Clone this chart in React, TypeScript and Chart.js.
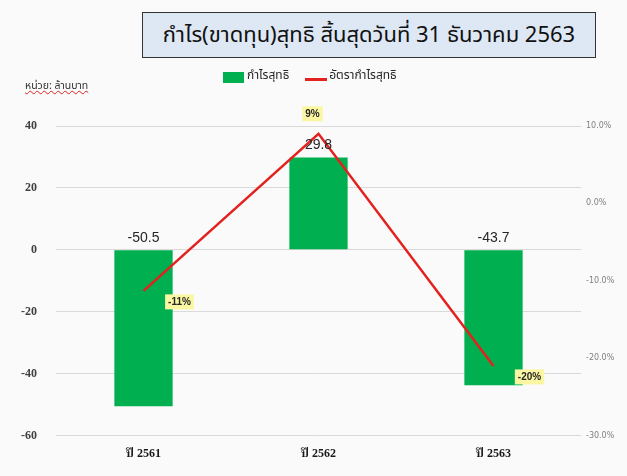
import React, { useEffect, useRef } from "react";
import { Chart, registerables } from "chart.js";

Chart.register(...registerables);

const titleText = "กำไร(ขาดทุน)สุทธิ สิ้นสุดวันที่ 31 ธันวาคม 2563";
const unitText = "หน่วย: ล้านบาท";
const categories = ["ปี 2561", "ปี 2562", "ปี 2563"];
const seriesNames = ["กำไรสุทธิ", "อัตรากำไรสุทธิ"];
const netProfit = [-50.5, 29.8, -43.7];
const profitMargin = [-0.113, 0.09, -0.21];
const marginLabels = ["-11%", "9%", "-20%"];
const leftTicks = [40, 20, 0, -20, -40, -60];
const rightTicks = [0.1, 0, -0.1, -0.2, -0.3];

const GREEN = "#00B050";
const RED = "#E3211F";
const SANS = "'Noto Sans Thai', 'Liberation Sans', 'DejaVu Sans', sans-serif";
const SERIF = "'Liberation Serif', 'Noto Serif Thai', 'Noto Sans Thai', serif";

const labelPlugin = {
  id: "valueLabels",
  afterDatasetsDraw(chart: any) {
    const ctx = chart.ctx as CanvasRenderingContext2D;
    ctx.save();
    ctx.textAlign = "center";
    ctx.textBaseline = "middle";
    const barMeta = chart.getDatasetMeta(1);
    ctx.font = "14px 'Liberation Sans', Arial, sans-serif";
    ctx.fillStyle = "#262626";
    barMeta.data.forEach((el: any, i: number) => {
      const top = Math.min(el.y, el.base);
      ctx.fillText(netProfit[i].toFixed(1), el.x, top - 12);
    });
    const lineMeta = chart.getDatasetMeta(0);
    ctx.font = "bold 10px 'Liberation Sans', Arial, sans-serif";
    lineMeta.data.forEach((pt: any, i: number) => {
      const txt = marginLabels[i];
      const pos = profitMargin[i] >= 0;
      const cx = pos ? pt.x - 6 : pt.x + 36;
      const cy = pos ? pt.y - 20 : pt.y + 11;
      const w = ctx.measureText(txt).width + 6;
      const h = 15;
      ctx.fillStyle = "#FAF6A2";
      ctx.fillRect(cx - w / 2, cy - h / 2, w, h);
      ctx.fillStyle = "#262626";
      ctx.fillText(txt, cx, cy + 0.5);
    });
    ctx.restore();
  },
};

export default function App() {
  const canvasRef = useRef<HTMLCanvasElement | null>(null);

  useEffect(() => {
    document.body.style.margin = "0";
    const canvas = canvasRef.current;
    if (!canvas) return;
    const chart = new Chart(canvas, {
      type: "bar",
      data: {
        labels: categories,
        datasets: [
          {
            type: "line",
            label: seriesNames[1],
            data: profitMargin,
            yAxisID: "y1",
            borderColor: RED,
            backgroundColor: RED,
            borderWidth: 2.5,
            pointRadius: 0,
            tension: 0,
            order: 0,
          } as any,
          {
            type: "bar",
            label: seriesNames[0],
            data: netProfit,
            yAxisID: "y",
            backgroundColor: GREEN,
            borderWidth: 0,
            barPercentage: 0.333,
            categoryPercentage: 1,
            order: 1,
          } as any,
        ],
      },
      options: {
        responsive: true,
        maintainAspectRatio: false,
        animation: false,
        layout: { padding: { top: 126, left: 0, right: 0, bottom: 4 } },
        plugins: {
          legend: { display: false },
          tooltip: { enabled: false },
          title: { display: false },
        },
        scales: {
          x: {
            grid: { display: false, drawTicks: false },
            border: { display: false },
            ticks: {
              color: "#1a1a1a",
              padding: 11,
              font: { family: SERIF, size: 12, weight: "bold" },
            },
          },
          y: {
            position: "left",
            min: -60,
            max: 40,
            afterBuildTicks: (s: any) => {
              s.ticks = leftTicks.map((v) => ({ value: v }));
            },
            afterFit: (s: any) => {
              s.width = 56;
            },
            grid: { color: "#d9d9d9", lineWidth: 1, drawTicks: false },
            border: { display: false },
            ticks: {
              color: "#404040",
              padding: 19,
              font: { family: SERIF, size: 12, weight: "bold" },
            },
          },
          y1: {
            position: "right",
            min: -0.3,
            max: 0.1,
            afterBuildTicks: (s: any) => {
              s.ticks = rightTicks.map((v) => ({ value: v }));
            },
            afterFit: (s: any) => {
              s.width = 46;
            },
            grid: { display: false, drawTicks: false },
            border: { display: false },
            ticks: {
              color: "#808080",
              padding: 5,
              font: { family: "'DejaVu Sans', sans-serif", size: 8 },
              callback: (v: any) => {
                const n = Math.abs(v) < 1e-9 ? 0 : v * 100;
                return n.toFixed(1) + "%";
              },
            },
          },
        },
      },
      plugins: [labelPlugin],
    });
    return () => chart.destroy();
  }, []);

  const legendText: React.CSSProperties = {
    fontFamily: SANS,
    fontSize: 12,
    color: "#262626",
    whiteSpace: "nowrap",
  };

  return (
    <div
      style={{
        position: "absolute",
        left: 0,
        top: 0,
        width: 627,
        height: 476,
        background: "#fafafa",
        overflow: "hidden",
      }}
    >
      <canvas ref={canvasRef} style={{ position: "absolute", left: 0, top: 0 }} />
      <div
        style={{
          position: "absolute",
          left: 142,
          top: 12,
          width: 454,
          height: 46,
          boxSizing: "border-box",
          border: "1.5px solid #333",
          background: "#DEE8F4",
          display: "flex",
          alignItems: "center",
          justifyContent: "center",
          fontFamily: SANS,
          fontSize: 22,
          color: "#111",
          whiteSpace: "nowrap",
        }}
      >
        {titleText}
      </div>
      <div
        style={{
          position: "absolute",
          left: 223,
          top: 64,
          height: 22,
          display: "flex",
          alignItems: "center",
        }}
      >
        <span style={{ display: "inline-block", width: 21, height: 11, background: GREEN, marginRight: 3, marginTop: 4 }} />
        <span style={legendText}>{seriesNames[0]}</span>
        <span style={{ display: "inline-block", width: 22, height: 2.5, background: RED, marginLeft: 16, marginRight: 2, marginTop: 9 }} />
        <span style={legendText}>{seriesNames[1]}</span>
      </div>
      <div
        style={{
          position: "absolute",
          left: 25,
          top: 78,
          fontFamily: SANS,
          fontSize: 10.5,
          color: "#333",
          textDecoration: "underline wavy #e02020",
          textDecorationThickness: 1,
          whiteSpace: "nowrap",
        }}
      >
        {unitText}
      </div>
    </div>
  );
}
